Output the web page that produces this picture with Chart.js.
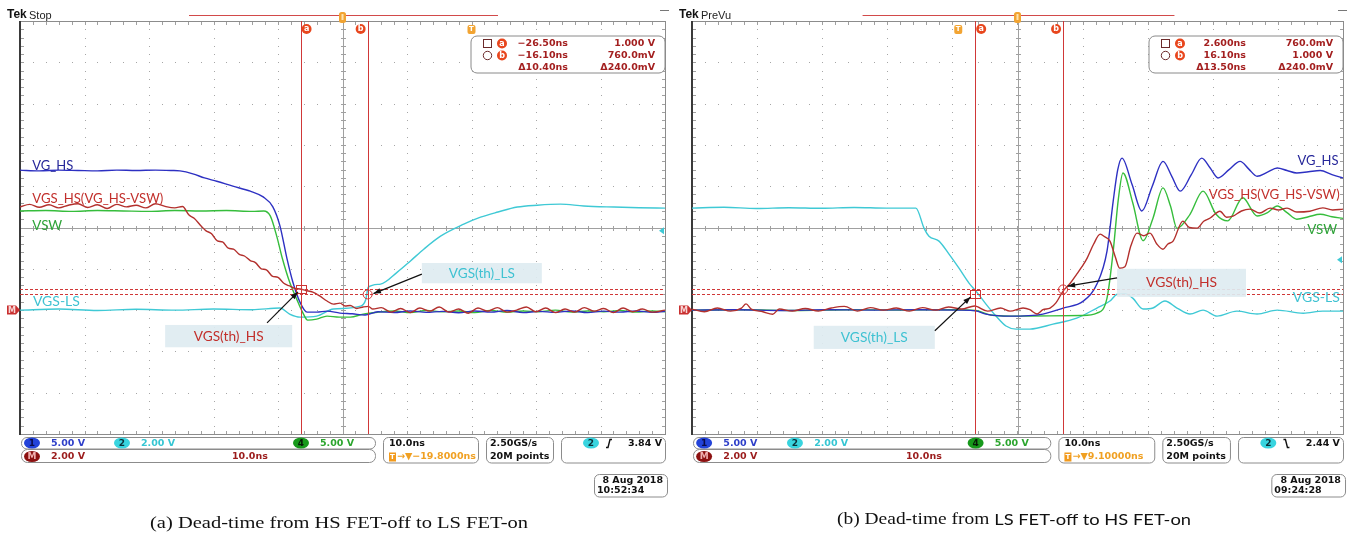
<!DOCTYPE html>
<html>
<head>
<meta charset="utf-8">
<script src="https://cdn.jsdelivr.net/npm/chart.js@4"></script>
<style>
html, body { margin: 0; padding: 0; background: #fff; }
#wrap { position: relative; width: 1352px; height: 535px; overflow: hidden; }
canvas { position: absolute; top: 0; }
#scopeA { left: 0; }
#scopeB { left: 676px; }
</style>
</head>
<body>
<div id="wrap">
<canvas id="scopeA" width="676" height="535"></canvas>
<canvas id="scopeB" width="676" height="535"></canvas>
</div>
<script>
/* ===== channel setup ===== */

// order: math (VGS_HS), ch1 (VG_HS), ch4 (VSW), ch2 (VGS-LS)
const traceNames = ["VGS_HS(VG_HS-VSW)", "VG_HS", "VSW", "VGS-LS"];
const voltsPerDiv = [2, 5, 5, 2];
const traceColors = ["#b3302d", "#2d30c2", "#36bd3c", "#3fc9d5"];
const labelColors = ["#c2302c", "#26279a", "#2ea338", "#3fc2d2"];
const groundDiv = -2;

/* ===== (a) HS FET-off -> LS FET-on, time in ns, volts ===== */

const timeRangeA = [-70, 30];

const vgsHsA = [[-70,5.0],[-68.5,5.12],[-67,4.98],[-65.5,5.1],[-64,4.95],[-62.5,5.08],[-61,5.15],[-59.5,4.97],[-58,5.1],[-56.5,4.92],[-55,5.12],[-53.5,5.0],[-52,5.08],[-50.5,4.95],[-49,5.15],[-47.5,5.02],[-46,4.95],[-44.8,5.02],
  [-43.8,4.6],[-43,4.45],[-42,4.1],[-41.2,3.85],[-40.3,3.7],[-39.4,3.35],[-38.6,3.3],[-37.7,3.0],[-36.9,2.95],[-36,2.7],[-35.2,2.62],[-34.3,2.4],[-33.5,2.3],[-32.6,2.0],[-31.8,1.95],[-30.9,1.65],[-30,1.58],[-29.1,1.3],[-28.3,1.18],[-27.4,1.05],[-26.6,1.02],[-25.7,0.95],[-24.6,0.87],[-23.6,0.7],[-22.4,0.44],[-21.4,0.29],[-20.4,0.34],[-19.6,0.2],[-18.8,0.22],[-17.8,0.08],[-16.8,0.15],[-16,0.18],[-15.3,0.05],
  [-14,0.12],[-12.5,-0.1],[-11,0.08],[-9.5,-0.12],[-8,0.1],[-6.5,-0.05],[-5,0.15],[-3.5,-0.1],[-2,0.05],[-0.5,-0.15],[1,0.1],[2.5,-0.05],[4,0.12],[5.5,-0.1],[7,0],[8.5,0.15],[10,-0.08],[11.5,0.1],[13,-0.12],[14.5,0.05],[16,-0.1],[17.5,0.12],[19,-0.05],[20.5,0.08],[22,-0.12],[23.5,0.1],[25,-0.08],[26.5,0.05],[28,-0.1],[30,0]];

const vgHsA = [[-70,16.95],[-67,16.85],[-64,16.95],[-61,16.9],[-58,16.85],[-55,16.95],[-52,16.9],[-49,16.95],[-46.5,16.9],[-45.2,16.85],[-43.2,16.5],[-41.4,16.0],[-39.5,15.6],[-37,15.0],[-34.3,14.4],[-32.3,13.7],[-30.8,12.5],[-29.7,10.2],[-28.6,6.2],[-27.7,3.4],[-26.6,0.97],[-25.5,-0.24],[-24,-0.24],[-22.4,-0.12],[-20.4,-0.36],[-18.5,-0.45],[-16.5,-0.6],[-14.5,-0.2],[-12,-0.3],[-9.5,-0.1],[-7,-0.28],[-4.5,-0.15],[-2,-0.32],[0.5,-0.1],[3,-0.25],[5.5,-0.05],[8,-0.3],[10.5,-0.15],[13,-0.28],[15.5,-0.1],[18,-0.3],[20.5,-0.12],[23,-0.25],[25.5,-0.1],[28,-0.28],[30,-0.15]];

const vswA = [[-70,12.0],[-66,12.05],[-62,11.95],[-58,12.05],[-54,12.0],[-50,11.95],[-46,12.05],[-42,12.0],[-38,12.05],[-34,11.95],[-32.2,12.0],[-31.2,11.4],[-30.2,8.96],[-29.3,6.18],[-28.2,3.39],[-27.1,1.33],[-26.2,-0.24],[-25.4,-1.21],[-24,-1.09],[-22.4,-0.73],[-20.5,-0.85],[-18.8,-0.85],[-16.8,-0.48],[-14.5,-0.25],[-12,-0.1],[-9.5,-0.3],[-7,-0.05],[-4.5,-0.2],[-2,-0.1],[0.5,-0.3],[3,-0.05],[5.5,-0.25],[8,-0.1],[10.5,-0.2],[13,0],[15.5,-0.25],[18,-0.1],[20.5,-0.2],[23,-0.05],[25.5,-0.25],[28,-0.1],[30,-0.2]];

const vgsLsA = [[-70,0],[-64,0.05],[-58,-0.02],[-52,0.04],[-46,0],[-40,0.05],[-34,0.02],[-29.7,0.1],[-28.2,-0.19],[-26.6,-0.34],[-24,-0.29],[-21.4,0.05],[-17.2,0.19],[-16.4,0.5],[-16,1.11],[-14.1,1.26],[-11.5,1.84],[-9.5,2.37],[-7.4,2.95],[-4.8,3.58],[-1.2,4.16],[1.4,4.5],[4.1,4.75],[7.1,4.99],[10.2,5.08],[13.8,5.13],[17.4,5.04],[22.1,4.99],[26,4.96],[30,4.94]];

const cursorTimesA = [-26.5, -16.1];
const cursorLevelsA = [1.0, 0.76];
const readoutA = [["\u221226.50ns", "1.000 V"], ["\u221216.10ns", "760.0mV"], ["\u039410.40ns", "\u0394240.0mV"]];

/* ===== (b) LS FET-off -> HS FET-on ===== */

const timeRangeB = [-40.9, 59.1];

const vgsHsB = [[-40.9,0.05],[-39,-0.08],[-37,0.1],[-35,-0.05],[-33.3,0.1],[-32.6,0.3],[-31.8,0.05],[-30,-0.08],[-28.5,-0.2],[-27.5,0.05],[-25.5,-0.05],[-23.5,0.08],[-21.5,-0.05],[-19.5,0.1],[-17.5,0.18],[-15.5,-0.05],[-13.5,0.12],[-11.5,0],[-9.5,0.1],[-7.5,-0.05],[-5.5,0.12],[-3.5,0.0],[-1.5,0.15],[0.5,0.05],[2.5,0.2],[4.5,-0.05],[6.5,0.1],[7.95,-0.05],[9.95,0.1],[11,0.02],[12.1,-0.19],[13,0.02],[14.1,0.1],[15,0.35],[16.1,0.92],[17.2,1.3],[18.2,1.74],[19,2.1],[19.8,2.52],[20.8,3.2],[21.8,3.68],[22.5,3.55],[23.3,3.34],[24.1,2.6],[24.8,2.03],[25.6,2.1],[26.5,3.1],[27.45,3.73],[28.5,3.6],[29.45,3.73],[30.5,3.2],[31.45,2.95],[32.2,3.2],[33,3.34],[34.5,4.31],[35.5,4.0],[36.7,3.97],[37.7,4.3],[38.7,4.46],[40.2,4.79],[41.2,4.5],[42.2,4.55],[43.5,4.8],[44.8,4.89],[46.3,4.7],[47.9,4.94],[49.2,4.85],[50.5,4.94],[52,4.75],[54,4.79],[56,4.95],[57.5,4.85],[59.1,4.89]];

const vgHsB = [[-40.9,0],[-34,0.05],[-27,-0.05],[-20,0.05],[-13,0],[-6,0.05],[0,0],[2.7,-0.1],[4.26,-0.48],[7.95,-0.73],[13,-0.48],[16.1,0.24],[19.2,1.09],[21.3,3.15],[22.85,7.14],[23.8,13.2],[24.5,17],[25.15,18.4],[26.7,15.2],[28.2,12.0],[29.8,15.0],[31.45,18.0],[32.8,16.2],[34.1,14.4],[35.8,16.4],[37.4,18.4],[38.7,17.2],[39.9,16.0],[41.6,17.0],[43.3,18.0],[44.6,17.1],[45.9,16.2],[47.5,16.7],[49,17.2],[50.5,16.9],[52,16.6],[53.8,16.75],[55.6,16.9],[57.4,16.4],[59.1,16.0]];

const vswB = [[-40.9,0],[-33,0.05],[-25,-0.05],[-17,0.05],[-9,0],[-1,0.05],[2.7,-0.05],[5,-0.6],[8,-0.73],[14,-0.7],[19,-0.65],[21.3,-0.36],[22.85,1.45],[23.8,7.14],[24.6,13.5],[25.3,16.6],[26.8,13.0],[28.4,8.4],[29.9,11.1],[31.45,14.8],[32.6,12.6],[33.6,9.9],[35.6,11.6],[37.6,14.4],[39.6,11.6],[41.4,10.8],[43.7,13.6],[45.9,11.4],[47.5,11.8],[49,12.6],[50.5,11.8],[52,11.0],[53.8,11.3],[55.6,11.6],[57.4,11.3],[59.1,11.1]];

const vgsLsB = [[-40.9,4.94],[-36,4.98],[-31,4.92],[-26,4.96],[-21,4.93],[-16,4.97],[-11,4.94],[-6.5,4.94],[-5.26,3.97],[-4.5,3.58],[-2.96,3.34],[-1.42,2.71],[0.11,2.03],[1.65,1.31],[2.72,0.92],[4.26,0.29],[5.8,-0.29],[7.33,-0.77],[8.87,-0.92],[11,-0.92],[14.55,-0.68],[18.2,-0.39],[21.3,0.1],[23.3,0.44],[24.4,0.77],[25.6,0.8],[26.8,0.58],[28.4,0.05],[29.9,0.1],[31.75,0.44],[33.6,0.1],[35.6,-0.19],[37.6,0],[39.75,-0.29],[42.8,-0.05],[45.9,-0.19],[49,0],[53,-0.15],[56,-0.05],[59.1,-0.05]];

const cursorTimesB = [2.6, 16.1];
const cursorLevelsB = [0.76, 1.0];
const readoutB = [["2.600ns", "760.0mV"], ["16.10ns", "1.000 V"], ["\u039413.50ns", "\u0394240.0mV"]];

/* ===== scope texts ===== */

const scaleTexts = ["5.00 V", "2.00 V", "5.00 V", "2.00 V", "10.0ns"];
const horizTextsA = ["10.0ns", "\u221219.8000ns", "2.50GS/s", "20M points"];
const horizTextsB = ["10.0ns", "9.10000ns", "2.50GS/s", "20M points"];
const triggerLevels = [3.84, 2.44];
const dateA = ["8 Aug 2018", "10:52:34"];
const dateB = ["8 Aug 2018", "09:24:28"];

// trace labels: [trace index, time ns, division]
const labelsA = [[1, -68.1, 1.5], [0, -68.1, 0.7], [2, -68.1, 0.04], [3, -68.0, -1.78]];
const labelsB = [[1, 58.4, 1.63], [0, 58.6, 0.79], [2, 58.2, -0.04], [3, 58.6, -1.69]];
const labelWidths = [131, 41, 30, 47];

// annotations: text, colour index, box [t0, t1, d0, d1], arrow [t, d, t, d]
const notesA = [["VGS(th)_HS", 0, [-47.5, -27.8, -2.36, -2.9], [-31.7, -2.31, -26.9, -1.56], 70],
                ["VGS(th)_LS", 3, [-7.7, 10.9, -0.86, -1.35], [-7.7, -1.13, -15.2, -1.6], 66]];
const notesB = [["VGS(th)_HS", 0, [24.4, 44.2, -1.0, -1.68], [24.4, -1.22, 16.8, -1.42], 71],
                ["VGS(th)_LS", 3, [-22.2, -3.6, -2.38, -2.94], [-3.6, -2.5, 1.9, -1.68], 67]];

const captionA = [["(a) Dead-time from HS FET-off to LS FET-on", "17px \"Liberation Serif\""]];
const captionB = [["(b) Dead-time from ", "17px \"Liberation Serif\""], ["LS FET-off to HS FET-on", "16px Lato"]];

/* ===== drawing helpers ===== */

function text(ctx, s, x, y, font, color, align) {
  ctx.font = font;
  ctx.fillStyle = color;
  ctx.textAlign = align || "left";
  ctx.textBaseline = "middle";
  ctx.fillText(s, x, y);
}

function fitted(ctx, parts, x, y, width, color, align) {
  let total = 0;
  parts.forEach(p => { ctx.font = p[1]; total += ctx.measureText(p[0]).width; });
  const x0 = align === "right" ? x - width : (align === "center" ? x - width / 2 : x);
  ctx.save();
  ctx.translate(x0, y);
  ctx.scale(width / total, 1);
  ctx.fillStyle = color;
  ctx.textAlign = "left";
  ctx.textBaseline = "middle";
  let cx = 0;
  parts.forEach(p => { ctx.font = p[1]; ctx.fillText(p[0], cx, 0); cx += ctx.measureText(p[0]).width; });
  ctx.restore();
}

function roundBox(ctx, x, y, w, h, r, stroke, fill) {
  ctx.beginPath();
  ctx.moveTo(x + r, y);
  ctx.arcTo(x + w, y, x + w, y + h, r);
  ctx.arcTo(x + w, y + h, x, y + h, r);
  ctx.arcTo(x, y + h, x, y, r);
  ctx.arcTo(x, y, x + w, y, r);
  ctx.closePath();
  if (fill) { ctx.fillStyle = fill; ctx.fill(); }
  if (stroke) { ctx.strokeStyle = stroke; ctx.lineWidth = 1; ctx.stroke(); }
}

function badge(ctx, cx, cy, fill, s, color) {
  ctx.beginPath();
  ctx.ellipse(cx, cy, 8, 5.5, 0, 0, Math.PI * 2);
  ctx.fillStyle = fill;
  ctx.fill();
  text(ctx, s, cx, cy + 0.5, "bold 9px \"DejaVu Sans\"", color, "center");
}

function line(ctx, x1, y1, x2, y2) {
  ctx.beginPath();
  ctx.moveTo(x1, y1);
  ctx.lineTo(x2, y2);
  ctx.stroke();
}

function arrow(ctx, x1, y1, x2, y2) {
  ctx.strokeStyle = "#111";
  ctx.fillStyle = "#111";
  ctx.lineWidth = 1.2;
  line(ctx, x1, y1, x2, y2);
  const ang = Math.atan2(y2 - y1, x2 - x1);
  ctx.beginPath();
  ctx.moveTo(x2, y2);
  ctx.lineTo(x2 - 8 * Math.cos(ang - 0.35), y2 - 8 * Math.sin(ang - 0.35));
  ctx.lineTo(x2 - 8 * Math.cos(ang + 0.35), y2 - 8 * Math.sin(ang + 0.35));
  ctx.closePath();
  ctx.fill();
}

function cursorTag(ctx, x, y, s) {
  ctx.beginPath();
  ctx.arc(x, y, 5, 0, Math.PI * 2);
  ctx.fillStyle = "#e8461d";
  ctx.fill();
  text(ctx, s, x, y, "bold 8px \"DejaVu Sans\"", "#fff", "center");
}

/* ===== graticule ===== */

function drawGraticule(chart) {
  const ctx = chart.ctx, a = chart.chartArea;
  const L = Math.round(a.left), R = Math.round(a.right), T = Math.round(a.top), B = Math.round(a.bottom);
  const dx = (R - L) / 10, dy = (B - T) / 10;
  const cx = Math.round((L + R) / 2), cy = Math.round((T + B) / 2);
  ctx.save();
  ctx.fillStyle = "#a6a6a6";
  for (let i = 1; i < 10; i++) {
    if (i === 5) continue;
    const x = Math.round(L + i * dx);
    for (let j = 1; j < 50; j++) ctx.fillRect(x, Math.round(T + j * dy / 5), 1, 1);
  }
  for (let j = 1; j < 10; j++) {
    if (j === 5) continue;
    const y = Math.round(T + j * dy);
    for (let i = 1; i < 50; i++) ctx.fillRect(Math.round(L + i * dx / 5), y, 1, 1);
  }
  ctx.fillStyle = "#a0a0a0";
  ctx.fillRect(cx, T, 1, B - T);
  ctx.fillRect(L, cy, R - L, 1);
  for (let i = 1; i < 50; i++) {
    const x = Math.round(L + i * dx / 5);
    const y = Math.round(T + i * dy / 5);
    ctx.fillRect(x, cy - 2, 1, 5);
    ctx.fillRect(cx - 2, y, 5, 1);
    ctx.fillRect(x, T + 1, 1, 3);
    ctx.fillRect(x, B - 3, 1, 3);
    ctx.fillRect(L + 1, y, 3, 1);
    ctx.fillRect(R - 3, y, 3, 1);
  }
  ctx.fillStyle = "#8c8c8c";
  ctx.fillRect(L, T, R - L + 1, 1);
  ctx.fillRect(L, B, R - L + 1, 1);
  ctx.fillRect(R, T, 1, B - T);
  ctx.fillStyle = "#3a3a3a";
  ctx.fillRect(L - 1, T, 2, B - T + 1);
  ctx.restore();
}

/* ===== everything on top of the traces ===== */

function drawOverlay(chart) {
  const c = scopeConfigs[chart.canvas.id];
  const ctx = chart.ctx, a = chart.chartArea;
  const L = a.left, R = a.right, T = a.top, B = a.bottom;
  const sx = (R - L) / 645;
  const X = t => chart.scales.x.getPixelForValue(t);
  const Y = d => chart.scales.y.getPixelForValue(d);
  const mathDiv = v => v / voltsPerDiv[0] + groundDiv;
  const mono = "bold 9.5px \"DejaVu Sans\"";
  ctx.save();

  // top status line
  text(ctx, "Tek", L - 13, 15, "bold 12px \"Liberation Sans\"", "#111");
  text(ctx, c.mode, L + 9, 15.5, "11px \"Liberation Sans\"", "#222");
  ctx.fillStyle = "#d24a4a";
  ctx.fillRect(L + 169 * sx, 15, 309 * sx, 1);
  roundBox(ctx, (L + R) / 2 - 3.5, 12, 7, 11, 2.5, null, "#f2a432");
  ctx.fillStyle = "#fde3b0";
  ctx.fillRect((L + R) / 2 - 1, 14, 2, 6);
  ctx.fillStyle = "#777";
  ctx.fillRect(R - 5, 10, 9, 1);

  // voltage cursors (dashed) and time cursors
  ctx.strokeStyle = "#d03838";
  ctx.lineWidth = 1;
  ctx.setLineDash([3, 2]);
  c.levels.forEach(v => { const y = Math.round(Y(mathDiv(v))) + 0.5; line(ctx, L, y, R, y); });
  ctx.setLineDash([]);
  c.cursors.forEach(t => { const x = Math.round(X(t)) + 0.5; line(ctx, x, T, x, B); });
  cursorTag(ctx, X(c.cursors[0]) + 6, 29, "a");
  cursorTag(ctx, X(c.cursors[1]) - 7, 29, "b");

  // trigger point marker
  roundBox(ctx, X(0) - 4, 25, 8, 9, 2, null, "#f2a432");
  text(ctx, "T", X(0), 29.5, "bold 7px \"DejaVu Sans\"", "#fff", "center");

  // cursor crossing marks
  ctx.strokeStyle = "#cc3434";
  ctx.lineWidth = 1;
  const qx = X(c.cursors[0]), qy = Y(mathDiv(c.levels[0]));
  ctx.strokeRect(Math.round(qx) - 4.5, Math.round(qy) - 3.5, 10, 8);
  ctx.beginPath();
  ctx.arc(X(c.cursors[1]), Y(mathDiv(c.levels[1])), 4.5, 0, Math.PI * 2);
  ctx.stroke();

  // trace labels
  c.labels.forEach(l => {
    fitted(ctx, [[traceNames[l[0]], "14px Lato"]], X(l[1]), Y(l[2]), labelWidths[l[0]], labelColors[l[0]], c.labelAlign);
  });

  // threshold annotations
  c.notes.forEach(n => {
    const bx0 = X(n[2][0]), bx1 = X(n[2][1]), by0 = Y(n[2][2]), by1 = Y(n[2][3]);
    ctx.fillStyle = "rgba(222,235,241,0.92)";
    ctx.fillRect(bx0, by0, bx1 - bx0, by1 - by0);
    fitted(ctx, [[n[0], "14px Lato"]], (bx0 + bx1) / 2, (by0 + by1) / 2, n[4], labelColors[n[1]], "center");
    arrow(ctx, X(n[3][0]), Y(n[3][1]), X(n[3][2]), Y(n[3][3]));
  });

  // ground marker and trigger level
  const gy = Y(groundDiv);
  ctx.fillStyle = "#c93030";
  ctx.beginPath();
  ctx.moveTo(L - 13, gy - 4.5); ctx.lineTo(L - 4, gy - 4.5); ctx.lineTo(L, gy);
  ctx.lineTo(L - 4, gy + 4.5); ctx.lineTo(L - 13, gy + 4.5); ctx.closePath();
  ctx.fill();
  text(ctx, "M", L - 8, gy + 0.5, "bold 8px \"DejaVu Sans\"", "#f8d6d6", "center");
  const ty = Y(c.trigLevel / voltsPerDiv[3] + groundDiv);
  ctx.fillStyle = "#3fc9d5";
  ctx.beginPath();
  ctx.moveTo(R - 6, ty); ctx.lineTo(R - 1, ty - 3.5); ctx.lineTo(R - 1, ty + 3.5); ctx.closePath();
  ctx.fill();

  // cursor readout
  const BX = R - 194;
  roundBox(ctx, BX, 36, 194, 37, 6, "#8a8a8a", "#fff");
  const rc = "#a31f1f";
  ctx.strokeStyle = "#6c2a2a";
  ctx.strokeRect(BX + 12.5, 39.5, 8, 8);
  ctx.beginPath(); ctx.arc(BX + 16.5, 55.5, 4.2, 0, Math.PI * 2); ctx.stroke();
  cursorTag(ctx, BX + 31, 43.5, "a");
  cursorTag(ctx, BX + 31, 55.5, "b");
  c.readout.forEach((r, i) => {
    text(ctx, r[0], BX + 97, 43.5 + i * 12, mono, rc, "right");
    text(ctx, r[1], BX + 184, 43.5 + i * 12, mono, rc, "right");
  });

  drawBottom(ctx, c, L, sx);

  fitted(ctx, c.caption, c.captionPos[0], c.captionPos[1], c.captionPos[2], "#111", "left");
  ctx.restore();
}

function slope(ctx, x, y, rising) {
  ctx.strokeStyle = "#111";
  ctx.lineWidth = 1.4;
  ctx.beginPath();
  if (rising) { ctx.moveTo(x, y + 4); ctx.lineTo(x + 2, y + 4); ctx.lineTo(x + 4, y - 4); ctx.lineTo(x + 6, y - 4); }
  else { ctx.moveTo(x, y - 4); ctx.lineTo(x + 2, y - 4); ctx.lineTo(x + 4, y + 4); ctx.lineTo(x + 6, y + 4); }
  ctx.stroke();
}

function drawBottom(ctx, c, L, sx) {
  const P = k => L + k * sx;
  const f = "bold 9.5px \"DejaVu Sans\"";
  const border = "#8c8c8c";
  roundBox(ctx, P(1) + 0.5, 437.5, 354 * sx, 11.5, 5.5, border, "#fff");
  roundBox(ctx, P(1) + 0.5, 449.5, 354 * sx, 13, 6, border, "#fff");
  badge(ctx, P(12), 443, "#2343d9", "1", "#0b0b48");
  text(ctx, scaleTexts[0], P(31), 443.5, f, "#2e3fc9");
  badge(ctx, P(102), 443, "#38d4df", "2", "#0b3038");
  text(ctx, scaleTexts[1], P(121), 443.5, f, "#35c6d3");
  badge(ctx, P(281), 443, "#17991b", "4", "#061a06");
  text(ctx, scaleTexts[2], P(300), 443.5, f, "#2ba52d");
  badge(ctx, P(12), 456.5, "#8c1111", "M", "#f0b0b0");
  text(ctx, scaleTexts[3], P(31), 457, f, "#9b1c1c");
  text(ctx, scaleTexts[4], P(212), 457, f, "#9b1c1c");

  roundBox(ctx, P(363) + 0.5, 437.5, 95 * sx, 25.5, 5, border, "#fff");
  text(ctx, c.horiz[0], P(369), 443.5, f, "#111");
  ctx.fillStyle = "#f29a1c";
  ctx.fillRect(P(369), 452.5, 7, 9);
  text(ctx, "T", P(369) + 3.5, 457.5, "bold 7px \"DejaVu Sans\"", "#fff", "center");
  text(ctx, "\u2192\u25BC" + c.horiz[1], P(377), 457, f, "#f0a022");

  roundBox(ctx, P(466) + 0.5, 437.5, 67 * sx, 25.5, 5, border, "#fff");
  text(ctx, c.horiz[2], P(470), 443.5, f, "#111");
  text(ctx, c.horiz[3], P(470), 457, f, "#111");

  roundBox(ctx, P(541) + 0.5, 437.5, 104 * sx, 25.5, 5, border, "#fff");
  badge(ctx, P(571), 443, "#38d4df", "2", "#0b3038");
  slope(ctx, P(586), 443.5, c.trigRising);
  text(ctx, c.trigLevel.toFixed(2) + " V", P(642), 443.5, f, "#111", "right");

  roundBox(ctx, P(574) + 0.5, 474.5, 73 * sx, 22.5, 5, border, "#fff");
  text(ctx, c.date[0], P(643), 480.5, f, "#111", "right");
  text(ctx, c.date[1], P(577), 491, f, "#111");
}

/* ===== scope setup ===== */

const scopeConfigs = {
  scopeA: {
    traces: [vgsHsA, vgHsA, vswA, vgsLsA], range: timeRangeA, padding: { left: 20, right: 11, top: 21, bottom: 101 },
    mode: "Stop", cursors: cursorTimesA, levels: cursorLevelsA, readout: readoutA,
    labels: labelsA, labelAlign: "left", notes: notesA, trigLevel: triggerLevels[0], trigRising: true,
    horiz: horizTextsA, date: dateA, caption: captionA, captionPos: [150, 524, 378]
  },
  scopeB: {
    traces: [vgsHsB, vgHsB, vswB, vgsLsB], range: timeRangeB, padding: { left: 16, right: 9, top: 21, bottom: 101 },
    mode: "PreVu", cursors: cursorTimesB, levels: cursorLevelsB, readout: readoutB,
    labels: labelsB, labelAlign: "right", notes: notesB, trigLevel: triggerLevels[1], trigRising: false,
    horiz: horizTextsB, date: dateB, caption: captionB, captionPos: [161, 520, 354]
  }
};

const tekPlugin = {
  id: "tek",
  beforeDatasetsDraw(chart) { drawGraticule(chart); },
  afterDatasetsDraw(chart) { drawOverlay(chart); }
};

function makeScope(id) {
  const c = scopeConfigs[id];
  return new Chart(document.getElementById(id), {
    type: "line",
    data: {
      datasets: c.traces.map((pts, i) => ({
        label: traceNames[i],
        data: pts.map(p => ({ x: p[0], y: p[1] / voltsPerDiv[i] + groundDiv })),
        borderColor: traceColors[i],
        borderWidth: 1.4,
        pointRadius: 0,
        fill: false,
        cubicInterpolationMode: "monotone"
      }))
    },
    options: {
      responsive: false,
      animation: false,
      devicePixelRatio: 1,
      layout: { padding: c.padding },
      scales: {
        x: { type: "linear", min: c.range[0], max: c.range[1], display: false },
        y: { type: "linear", min: -5, max: 5, display: false }
      },
      plugins: { legend: { display: false }, tooltip: { enabled: false } }
    },
    plugins: [tekPlugin]
  });
}

makeScope("scopeA");
makeScope("scopeB");
</script>
</body>
</html>
